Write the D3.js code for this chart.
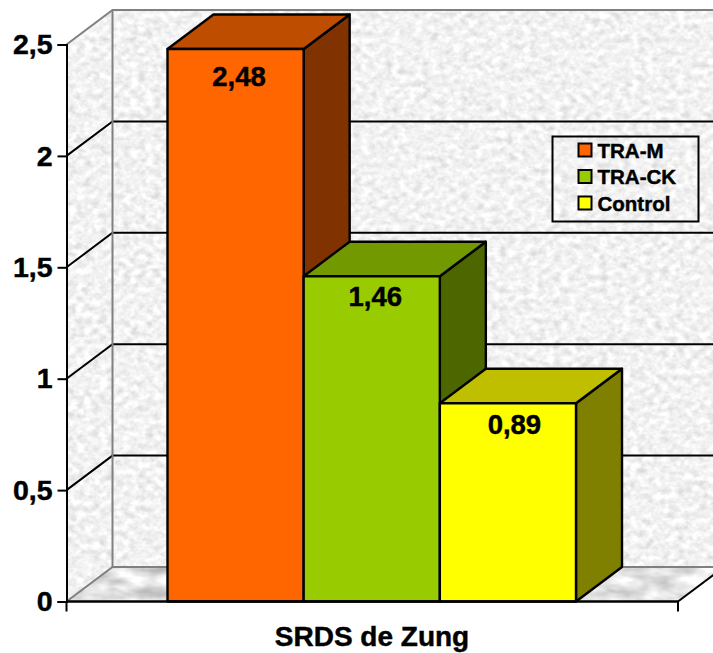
<!DOCTYPE html>
<html>
<head>
<meta charset="utf-8">
<script src="https://cdn.jsdelivr.net/npm/d3@7"></script>
<style>
  html, body { margin: 0; padding: 0; background: #fff; }
  svg { display: block; }
  text { font-family: "Liberation Sans", Arial, sans-serif; font-weight: bold; fill: #000; stroke: #000; stroke-width: 0.45px; }
</style>
</head>
<body>
<svg id="chart" width="713" height="653"></svg>
<script>
// Chart values
const seriesNames = ["TRA-M", "TRA-CK", "Control"];
const seriesValues = [2.48, 1.46, 0.89];
const valueLabels = ["2,48", "1,46", "0,89"];
const categoryLabel = "SRDS de Zung";
const yTicks = [0, 0.5, 1, 1.5, 2, 2.5];
const frontColors = ["#FF6600", "#99CC00", "#FFFF00"];
const topColors = ["#BF4D00", "#739900", "#BFBF00"];
const sideColors = ["#803300", "#4D6600", "#808000"];

// Oblique projection: offset of the back plane from the front plane
const depthX = 46, depthY = -34.5;
const left = 66.5, right = 678;

const y = d3.scaleLinear().domain([0, 2.5]).range([601.5, 44.5]);
const x = d3.scaleBand().domain(seriesNames).range([167.5, 576]).padding(0);

const svg = d3.select("#chart");
const defs = svg.append("defs");

// Stone textures for the walls and the floor
function stone(id, freqX, freqY, slope, intercept, seed) {
  const f = defs.append("filter").attr("id", id)
    .attr("x", 0).attr("y", 0).attr("width", "100%").attr("height", "100%")
    .attr("color-interpolation-filters", "sRGB");
  f.append("feTurbulence").attr("type", "fractalNoise")
    .attr("baseFrequency", freqX + " " + freqY).attr("numOctaves", 3).attr("seed", seed);
  f.append("feColorMatrix").attr("type", "matrix")
    .attr("values", `0.5 0.25 0.25 0 0  0.5 0.25 0.25 0 0  0.5 0.25 0.25 0 0  0 0 0 0 1`);
  const transfer = f.append("feComponentTransfer");
  ["feFuncR", "feFuncG", "feFuncB"].forEach(n => {
    transfer.append(() => document.createElementNS(d3.namespaces.svg, n))
      .attr("type", "linear").attr("slope", slope).attr("intercept", intercept);
  });
  f.append("feGaussianBlur").attr("stdDeviation", 0.7);
}
stone("wallStone", 0.13, 0.16, 0.4, 0.75, 7);
stone("floorStone", 0.035, 0.08, 0.7, 0.55, 3);

const path = pts => "M" + pts.map(p => p.join(",")).join("L") + "Z";
const y0 = y(0), yMax = y(2.5);

defs.append("clipPath").attr("id", "leftWallClip")
  .append("path").attr("d", path([[left, yMax], [left + depthX, yMax + depthY], [left + depthX, y0 + depthY], [left, y0]]));
defs.append("clipPath").attr("id", "floorClip")
  .append("path").attr("d", path([[left, y0], [left + depthX, y0 + depthY], [right + depthX, y0 + depthY], [right, y0]]));

const plot = svg.append("g");

// Back wall, side wall and floor
plot.append("rect").attr("x", left + depthX).attr("y", yMax + depthY)
  .attr("width", 713 - left - depthX).attr("height", y0 - yMax)
  .attr("filter", "url(#wallStone)");
plot.append("g").attr("clip-path", "url(#leftWallClip)")
  .append("rect").attr("x", left).attr("y", yMax + depthY)
  .attr("width", depthX + 1).attr("height", y0 - yMax - depthY)
  .attr("filter", "url(#wallStone)");
plot.append("g").attr("clip-path", "url(#floorClip)")
  .append("rect").attr("x", left).attr("y", y0 + depthY)
  .attr("width", 713 - left).attr("height", -depthY)
  .attr("filter", "url(#floorStone)");

// Gridlines run along the side wall and across the back wall
yTicks.filter(t => t > 0 && t < 2.5).forEach(t => {
  plot.append("path").attr("fill", "none").attr("stroke", "#000").attr("stroke-width", 2)
    .attr("d", `M${left},${y(t)}L${left + depthX},${y(t) + depthY}L713,${y(t) + depthY}`);
});

// Wall edges
const edge = plot.append("g").attr("fill", "none").attr("stroke", "#808080").attr("stroke-width", 2);
edge.append("path").attr("d", `M${left},${yMax}L${left + depthX},${yMax + depthY}L713,${yMax + depthY}`);
edge.append("path").attr("d", `M${left + depthX},${yMax + depthY}V${y0 + depthY}`);
edge.append("path").attr("d", `M${left},${y0}L${left + depthX},${y0 + depthY}L713,${y0 + depthY}`);

plot.append("path").attr("fill", "none").attr("stroke", "#000").attr("stroke-width", 2)
  .attr("d", `M${right},${y0}L${right + depthX},${y0 + depthY}`);

// Bars are painted from left to right so each one overlaps the side of the previous
const bars = plot.selectAll("g.bar").data(seriesNames).join("g").attr("class", "bar")
  .attr("stroke", "#000").attr("stroke-width", 2.4).attr("stroke-linejoin", "round");
bars.each(function (name, i) {
  const g = d3.select(this);
  const x0 = x(name), x1 = x0 + x.bandwidth(), top = y(seriesValues[i]);
  g.append("path").attr("fill", sideColors[i])
    .attr("d", path([[x1, top], [x1 + depthX, top + depthY], [x1 + depthX, y0 + depthY], [x1, y0]]));
  g.append("path").attr("fill", topColors[i])
    .attr("d", path([[x0, top], [x0 + depthX, top + depthY], [x1 + depthX, top + depthY], [x1, top]]));
  g.append("rect").attr("fill", frontColors[i])
    .attr("x", x0).attr("y", top).attr("width", x.bandwidth()).attr("height", y0 - top);
});

// Value labels on the bar fronts
const labelShiftX = [3.5, 3.5, 6.5];
const labelShiftY = [37, 30, 31];
plot.selectAll("text.value").data(seriesNames).join("text").attr("class", "value")
  .attr("x", (d, i) => x(d) + x.bandwidth() / 2 + labelShiftX[i])
  .attr("y", (d, i) => y(seriesValues[i]) + labelShiftY[i])
  .attr("text-anchor", "middle").attr("font-size", 27.5)
  .text((d, i) => valueLabels[i]);

// Value axis
const yAxis = d3.axisLeft(y).tickValues(yTicks).tickSize(9).tickPadding(5)
  .tickFormat(d => String(d).replace(".", ","));
const axisG = svg.append("g").attr("transform", `translate(${left},0)`).call(yAxis);
axisG.selectAll("path.domain").attr("stroke", "#000").attr("stroke-width", 2);
axisG.selectAll("line").attr("stroke", "#000").attr("stroke-width", 2);
axisG.selectAll("text").attr("font-size", 28.5).attr("font-family", '"Liberation Sans", Arial, sans-serif').attr("fill", "#000");

// Category axis along the front edge of the floor
const xBase = svg.append("g").attr("fill", "none").attr("stroke", "#000").attr("stroke-width", 2);
xBase.append("path").attr("d", `M${left},${y0}H${right}`).attr("stroke-width", 2.6);
xBase.append("path").attr("d", `M${left},${y0}v10M${right},${y0}v10`);
svg.append("text").attr("x", 372).attr("y", 646).attr("text-anchor", "middle")
  .attr("font-size", 28).text(categoryLabel);

// Legend
const legend = svg.append("g");
legend.append("rect").attr("x", 552.5).attr("y", 136.5).attr("width", 146).attr("height", 85)
  .attr("fill", "none").attr("stroke", "#000").attr("stroke-width", 2);
const rowY = d3.scalePoint().domain(seriesNames).range([150, 203]);
const rows = legend.selectAll("g.row").data(seriesNames).join("g").attr("class", "row")
  .attr("transform", d => `translate(578,${rowY(d)})`);
rows.append("rect").attr("x", 0.5).attr("y", -6.5).attr("width", 13).attr("height", 13)
  .attr("fill", (d, i) => frontColors[i]).attr("stroke", "#000").attr("stroke-width", 2);
rows.append("text").attr("x", 19.5).attr("y", 7.5).attr("font-size", 20.5).text(d => d);
</script>
</body>
</html>
